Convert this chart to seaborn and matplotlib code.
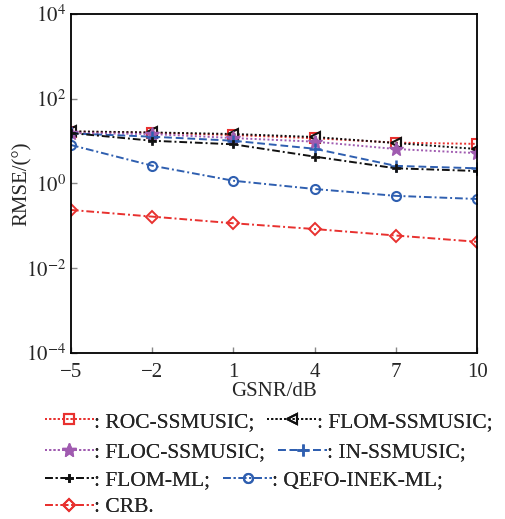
import numpy as np
import pandas as pd
import matplotlib
matplotlib.use("Agg")
import matplotlib.pyplot as plt
import seaborn as sns

gsnr = [-5, -2, 1, 4, 7, 10]
roc_ssmusic = [16.8, 15.8, 13.9, 11.7, 9.2, 8.6]
flom_ssmusic = [17.0, 16.0, 14.7, 12.5, 9.0, 6.5]
floc_ssmusic = [15.5, 14.7, 11.8, 9.7, 6.5, 5.2]
in_ssmusic = [15.2, 12.7, 10.2, 6.6, 2.6, 2.28]
flom_ml = [15.5, 10.2, 8.4, 4.3, 2.28, 1.97]
qefo_inek_ml = [8.1, 2.63, 1.16, 0.74, 0.51, 0.43]
crb = [0.237, 0.165, 0.115, 0.084, 0.059, 0.042]

names = ["ROC-SSMUSIC;", "FLOM-SSMUSIC;", "FLOC-SSMUSIC;", "IN-SSMUSIC;",
         "FLOM-ML;", "QEFO-INEK-ML;", "CRB."]
series = [roc_ssmusic, flom_ssmusic, floc_ssmusic, in_ssmusic, flom_ml, qefo_inek_ml, crb]

styles = {
    "ROC-SSMUSIC;": dict(color="#e8312f", linestyle=(0, (1, 1.2)), marker="s", mfc="none", ms=7, mew=1.5),
    "FLOM-SSMUSIC;": dict(color="#111111", linestyle=(0, (1, 1.2)), marker="<", mfc="none", ms=7, mew=1.5),
    "FLOC-SSMUSIC;": dict(color="#a05bb0", linestyle=(0, (1, 1.2)), marker="*", mfc="#a05bb0", ms=10, mew=1.0),
    "IN-SSMUSIC;": dict(color="#2f5fb0", linestyle=(0, (4, 2)), marker="+", ms=9, mew=1.8),
    "FLOM-ML;": dict(color="#111111", linestyle=(0, (4, 1.5, 1, 1.5)), marker="P", mfc="#111111", ms=6, mew=0.5),
    "QEFO-INEK-ML;": dict(color="#2f5fb0", linestyle=(0, (4, 1.5, 1, 1.5)), marker="o", mfc="none", ms=6.5, mew=1.5),
    "CRB.": dict(color="#e8312f", linestyle=(0, (4, 1.5, 1, 1.5)), marker="D", mfc="none", ms=6.5, mew=1.4),
}

df = pd.DataFrame({
    "GSNR": np.tile(gsnr, len(names)),
    "RMSE": np.concatenate(series),
    "method": np.repeat(names, len(gsnr)),
})

sns.set_style("ticks")
plt.rcParams["font.family"] = ["Liberation Serif", "DejaVu Serif"]
plt.rcParams["mathtext.fontset"] = "stix"

fig = plt.figure(figsize=(5.06, 5.19), dpi=100)
ax = fig.add_axes([0.140, 0.320, 0.803, 0.653])

handles = {}
for name in names:
    sub = df[df["method"] == name]
    st = styles[name]
    sns.lineplot(data=sub, x="GSNR", y="RMSE", ax=ax, color=st["color"],
                 linestyle=st["linestyle"], marker=st["marker"],
                 markerfacecolor=st.get("mfc", st["color"]),
                 markeredgecolor=st["color"], markersize=st["ms"],
                 markeredgewidth=st["mew"], linewidth=1.4, legend=False)
    handles[name] = ax.lines[-1]

ax.set_yscale("log")
ax.set_ylim(1e-4, 1e4)
ax.set_xlim(-5, 10)
ax.set_xticks(gsnr)
ax.set_xticklabels([("\u2212" + str(-v)) if v < 0 else str(v) for v in gsnr])
ax.set_yticks([1e-4, 1e-2, 1e0, 1e2, 1e4])
ax.set_yticklabels([r"$10^{-4}$", r"$10^{-2}$", r"$10^{0}$", r"$10^{2}$", r"$10^{4}$"])
ax.yaxis.set_minor_locator(matplotlib.ticker.NullLocator())
ax.tick_params(direction="in", labelsize=15, length=4, width=1, color="#888888")
ax.tick_params(axis="x", pad=7)
for s in ax.spines.values():
    s.set_color("black")
    s.set_linewidth(1.3)
ax.set_xlabel("GSNR/dB", fontsize=15, labelpad=0)
ax.set_ylabel("RMSE/(°)", fontsize=15, labelpad=-4)

rows = [["ROC-SSMUSIC;", "FLOM-SSMUSIC;"], ["FLOC-SSMUSIC;", "IN-SSMUSIC;"],
        ["FLOM-ML;", "QEFO-INEK-ML;"], ["CRB."]]
ys = [0.187, 0.129, 0.075, 0.023]
for row, yy in zip(rows, ys):
    leg = fig.legend([handles[n] for n in row], [": " + n for n in row],
                     loc="center left", bbox_to_anchor=(0.088, yy), ncol=len(row),
                     frameon=False, fontsize=15.5, handlelength=2.3, handletextpad=0.0,
                     columnspacing=0.6, borderpad=0, borderaxespad=0)
    fig.add_artist(leg)

fig.savefig("out.png", dpi=100)
